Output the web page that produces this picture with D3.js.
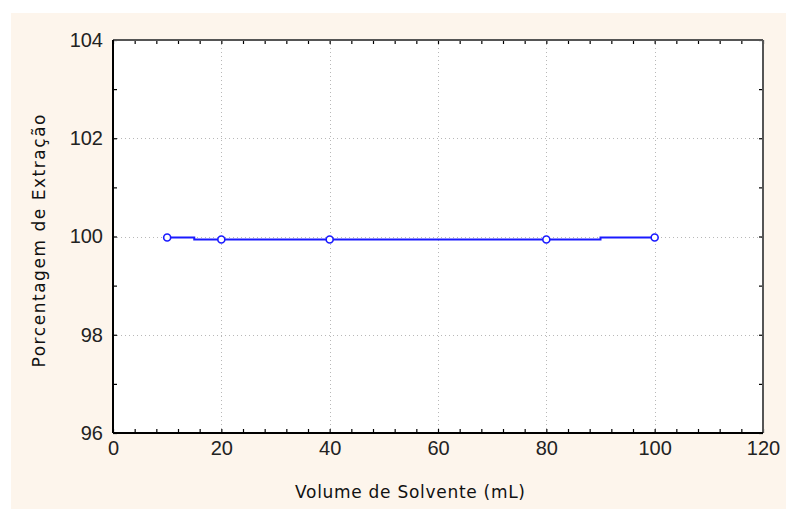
<!DOCTYPE html>
<html>
<head>
<meta charset="utf-8">
<script src="https://cdn.jsdelivr.net/npm/d3@7"></script>
<style>
  body { margin: 0; background: #ffffff; }
  .tick text { font-family: "Liberation Sans", Arial, sans-serif; font-size: 20px; fill: #222; }
  .axisText { font-family: "DejaVu Sans", sans-serif; font-size: 17px; fill: #111; }
</style>
</head>
<body>
<div id="chart"></div>
<script>
var svgWidth = 786;
var svgHeight = 509;

var margin = { top: 40, right: 23, bottom: 76, left: 113 };
var width = svgWidth - margin.left - margin.right;
var height = svgHeight - margin.top - margin.bottom;

// data
var volumes = [10, 20, 40, 80, 100];
var extraction = [99.98, 99.94, 99.94, 99.94, 99.98];
var xTicks = [0, 20, 40, 60, 80, 100, 120];
var yTicks = [96, 98, 100, 102, 104];

var svg = d3.select("#chart")
  .append("svg")
  .attr("width", svgWidth)
  .attr("height", svgHeight);

// cream panel behind everything
svg.append("rect")
  .attr("x", 11)
  .attr("y", 13)
  .attr("width", svgWidth - 11)
  .attr("height", svgHeight - 13)
  .attr("fill", "#fdf5ec");

var chartGroup = svg.append("g")
  .attr("transform", `translate(${margin.left}, ${margin.top})`);

chartGroup.append("rect")
  .attr("width", width)
  .attr("height", height)
  .attr("fill", "#ffffff");

var xLinearScale = d3.scaleLinear().domain([0, 120]).range([0, width]);
var yLinearScale = d3.scaleLinear().domain([96, 104]).range([height, 0]);

// dotted grid at the inner major ticks
chartGroup.selectAll(".vgrid")
  .data(xTicks.slice(1, -1))
  .enter()
  .append("line")
  .attr("x1", d => Math.round(xLinearScale(d)) + 0.5)
  .attr("x2", d => Math.round(xLinearScale(d)) + 0.5)
  .attr("y1", 0)
  .attr("y2", height)
  .attr("stroke", "#b8b8b8")
  .attr("stroke-dasharray", "1,3");

chartGroup.selectAll(".hgrid")
  .data(yTicks.slice(1, -1))
  .enter()
  .append("line")
  .attr("x1", 0)
  .attr("x2", width)
  .attr("y1", d => Math.round(yLinearScale(d)) + 0.5)
  .attr("y2", d => Math.round(yLinearScale(d)) + 0.5)
  .attr("stroke", "#b8b8b8")
  .attr("stroke-dasharray", "1,3");

// minor ticks, all pointing inward
var xMinor = d3.range(0, 121, 4);
var yMinor = d3.range(96, 104.01, 1);

function styleAxis(g) {
  g.select(".domain").remove();
  g.selectAll(".tick line").attr("stroke", "#000").attr("stroke-width", 1.2);
}

chartGroup.append("g")
  .attr("transform", `translate(0, ${height})`)
  .call(d3.axisBottom(xLinearScale).tickValues(xMinor).tickSize(-4).tickFormat(""))
  .call(styleAxis);
chartGroup.append("g")
  .call(d3.axisTop(xLinearScale).tickValues(xMinor).tickSize(-4).tickFormat(""))
  .call(styleAxis);
chartGroup.append("g")
  .call(d3.axisLeft(yLinearScale).tickValues(yMinor).tickSize(-4).tickFormat(""))
  .call(styleAxis);
chartGroup.append("g")
  .attr("transform", `translate(${width}, 0)`)
  .call(d3.axisRight(yLinearScale).tickValues(yMinor).tickSize(-4).tickFormat(""))
  .call(styleAxis);

// labelled axes
var bottomAxis = d3.axisBottom(xLinearScale).tickValues(xTicks).tickSize(0).tickPadding(8);
var leftAxis = d3.axisLeft(yLinearScale).tickValues(yTicks).tickSize(0).tickPadding(10);

chartGroup.append("g")
  .attr("transform", `translate(0, ${height})`)
  .call(bottomAxis)
  .call(g => g.select(".domain").remove());

chartGroup.append("g")
  .call(leftAxis)
  .call(g => g.select(".domain").remove());

// frame: black on left/bottom, grey on top/right
chartGroup.append("line").attr("x1", width).attr("x2", width).attr("y1", 0).attr("y2", height)
  .attr("stroke", "#555").attr("stroke-width", 2);
chartGroup.append("line").attr("x1", 0).attr("x2", width).attr("y1", 0).attr("y2", 0)
  .attr("stroke", "#555").attr("stroke-width", 2);
chartGroup.append("line").attr("x1", 0).attr("x2", 0).attr("y1", 0).attr("y2", height)
  .attr("stroke", "#000").attr("stroke-width", 2);
chartGroup.append("line").attr("x1", 0).attr("x2", width).attr("y1", height).attr("y2", height)
  .attr("stroke", "#000").attr("stroke-width", 2);

// step line with marker circles
var points = volumes.map((v, i) => ({ x: v, y: extraction[i] }));

var stepLine = d3.line()
  .x(d => xLinearScale(d.x))
  .y(d => yLinearScale(d.y))
  .curve(d3.curveStep);

chartGroup.append("path")
  .datum(points)
  .attr("d", stepLine)
  .attr("fill", "none")
  .attr("stroke", "#1a1aff")
  .attr("stroke-width", 2);

chartGroup.selectAll("circle")
  .data(points)
  .enter()
  .append("circle")
  .attr("cx", d => xLinearScale(d.x))
  .attr("cy", d => yLinearScale(d.y))
  .attr("r", 3.5)
  .attr("fill", "#fff")
  .attr("stroke", "#1a1aff")
  .attr("stroke-width", 1.6);

// axis titles
chartGroup.append("text")
  .attr("class", "axisText")
  .attr("text-anchor", "middle")
  .attr("x", 410 - margin.left)
  .attr("y", 498 - margin.top)
  .attr("textLength", 230)
  .attr("lengthAdjust", "spacing")
  .text("Volume de Solvente (mL)");

chartGroup.append("text")
  .attr("class", "axisText")
  .attr("text-anchor", "middle")
  .attr("transform", `translate(${45 - margin.left}, ${241 - margin.top}) rotate(-90)`)
  .attr("textLength", 253)
  .attr("lengthAdjust", "spacing")
  .text("Porcentagem de Extração");
</script>
</body>
</html>
